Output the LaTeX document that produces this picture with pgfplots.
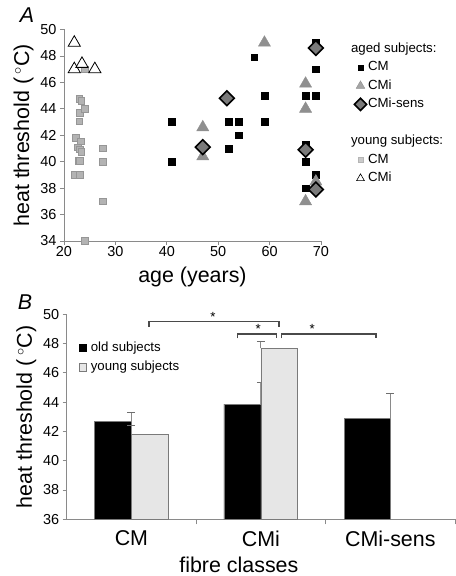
\documentclass[border=0pt]{standalone}
\usepackage{fontspec}
\setmainfont{Liberation Sans}
\usepackage{pgfplots}
\pgfplotsset{compat=1.18}
\definecolor{triA}{HTML}{8F8F8F}
\definecolor{sqY}{HTML}{B3B3B3}
\definecolor{sqYd}{HTML}{969696}
\definecolor{dia}{HTML}{7A7A7A}
\definecolor{axc}{HTML}{8A8A8A}
\definecolor{barY}{HTML}{E6E6E6}
\definecolor{barYd}{HTML}{7A7A7A}
\definecolor{brk}{HTML}{4A4A4A}
\newcommand{\bigfont}{\fontsize{21.5}{24}\selectfont}
\newcommand{\tickfont}{\fontsize{14.5}{16}\selectfont}
\newcommand{\legfont}{\fontsize{13.3}{15}\selectfont}
\pgfplotsset{
  common/.style={
    scale only axis,
    axis lines=left,
    axis line style={-, axc, line width=0.8bp},
    tick align=outside,
    major tick length=4bp,
    minor tick length=5bp,
    tick style={axc, line width=0.8bp},
    /pgf/number format/assume math mode=true,
    tick label style={font=\tickfont},
    label style={font=\bigfont},
  },
  mkleg/.style={legend image code/.code={\draw[##1] plot coordinates {(5bp,0bp)};}},
  barleg/.style={legend image code/.code={\draw[##1] (0bp,-3.6bp) rectangle (7.2bp,3.6bp);}},
  ebar/.style={error bars/.cd, y dir=plus, y explicit,
    error bar style={axc, line width=0.9bp},
    error mark options={rotate=90, brk!80, mark size=4bp, line width=0.9bp}},
}
\begin{document}
\begin{tikzpicture}[x=1bp,y=1bp]
% ---------------- Panel A ----------------
\begin{axis}[common,
  at={(64bp,335bp)}, anchor=south west,
  width=257bp, height=211.5bp,
  xmin=20, xmax=70, ymin=34, ymax=50,
  xtick={20,30,...,70}, ytick={34,36,...,50},
  xlabel={age (years)},
  xlabel style={yshift=-3bp},
  xticklabel style={yshift=2bp},
  ylabel={heat threshold (\,$^\circ$C)},
  clip=false,
  legend style={draw=none, fill=none, font=\legfont,
    at={(rel axis cs:1.13,0.945)}, anchor=north west,
    row sep=3bp, inner sep=0pt, outer sep=0pt,
    nodes={inner sep=1.5bp, text height=9.5bp, text depth=3bp}},
  legend cell align=left,
]
% aged CM
\addplot[only marks, mark=square*, mark size=3.4bp, draw=black, fill=black, forget plot] coordinates {
(41,43) (41,40) (52,43) (54,43) (52,41) (54,42) (57,47.9) (59,45) (59,43)
(67,45) (69,45) (69,47) (69,49) (67,41.3) (67,40) (69,39) (67,38)
};
% young CM
\addplot[only marks, mark=square*, mark size=3.3bp, draw=sqYd, fill=sqY, line width=0.6bp, forget plot] coordinates {
(24,47) (23,44.75) (23.4,44.6) (23.1,43.7) (24,44) (23,43.05) (22.3,41.8) (23.3,41.55)
(22.7,41.1) (23.1,40.95) (23.4,40.75) (22.8,40.05) (23.1,40.05) (22,39) (23.1,39)
(27.5,41) (27.5,40) (27.5,37) (24,34)
};
% young CMi
\addplot[only marks, mark=triangle*, mark size=7bp, draw=black, fill=white, line width=0.8bp, forget plot] coordinates {
(22,49) (22,47) (23.5,47.4) (26,47)
};
% aged CMi
\addplot[only marks, mark=triangle*, mark size=7bp, draw=triA, fill=triA, forget plot] coordinates {
(47,42.6) (47,40.4) (59,49) (67,45.9) (67,44) (69,38.5) (67,37)
};
% aged CMi-sens
\addplot[only marks, mark=square*, mark size=5.2bp, mark options={rotate=45}, draw=black, fill=dia, line width=1.6bp, forget plot] coordinates {
(47,41.1) (51.7,44.8) (69,48.6) (67,40.9) (69,37.9)
};
% legend
\addlegendimage{empty legend}
\addlegendentry{\hspace*{-17bp}aged subjects:}
\addlegendimage{mkleg, only marks, mark=square*, mark size=2.6bp, draw=black, fill=black}
\addlegendentry{CM}
\addlegendimage{mkleg, only marks, mark=triangle*, mark size=5bp, draw=triA, fill=triA!80}
\addlegendentry{CMi}
\addlegendimage{mkleg, only marks, mark=square*, mark size=4.3bp, mark options={rotate=45}, draw=black, fill=dia, line width=1.5bp}
\addlegendentry{CMi-sens}
\addlegendimage{empty legend}
\addlegendentry{}
\addlegendimage{empty legend}
\addlegendentry{\hspace*{-17bp}young subjects:}
\addlegendimage{mkleg, only marks, mark=square*, mark size=2.6bp, draw=sqYd!70, fill=sqY!70}
\addlegendentry{CM}
\addlegendimage{mkleg, only marks, mark=triangle*, mark size=4.5bp, draw=black, fill=white, line width=0.6bp}
\addlegendentry{CMi}
\end{axis}
% ---------------- Panel B ----------------
\begin{axis}[common,
  at={(66.7bp,56.7bp)}, anchor=south west,
  width=388.3bp, height=205bp,
  xmin=-0.5, xmax=2.5, ymin=36, ymax=50,
  ytick={36,38,...,50},
  xtick={0,1,2}, xticklabels={CM,CMi,CMi-sens},
  xticklabel style={font=\bigfont, yshift=-4bp},
  major x tick style={draw=none},
  minor xtick={0.5,1.5,2.5},
  xlabel={fibre classes},
  xlabel style={yshift=-4bp, xshift=-22bp},
  ylabel={heat threshold (\,$^\circ$C)},
  clip mode=individual,
  legend style={draw=none, fill=none, font=\legfont,
    at={(rel axis cs:0.03,0.875)}, anchor=north west,
    row sep=4bp, inner sep=0pt,
    nodes={inner sep=1.5bp, text height=9.5bp, text depth=3bp}},
  legend cell align=left,
]
\addplot[ybar, bar width=0.285, bar shift=-0.1425, fill=black, draw=barYd, line width=0.6bp, forget plot, ebar]
  coordinates {(0,42.66) +- (0,0.64) (1,43.87) +- (0,1.49)};
\addplot[ybar, bar width=0.285, bar shift=0.1425, fill=barY, draw=barYd, line width=0.6bp, forget plot, ebar]
  coordinates {(0,41.8) +- (0,0.64) (1,47.68) +- (0,0.45)};
\addplot[ybar, bar width=0.353, bar shift=-0.1765, fill=black, draw=barYd, line width=0.6bp, forget plot, ebar]
  coordinates {(2,42.87) +- (0,1.71)};
\addlegendimage{barleg, fill=black, draw=black}
\addlegendentry{\hspace*{3bp}old subjects}
\addlegendimage{barleg, fill=barY, draw=barYd, line width=0.6bp}
\addlegendentry{\hspace*{3bp}young subjects}
% significance brackets
\draw[brk, line width=1.3bp] (axis cs:0.136,49.15) -- (axis cs:0.136,49.5) -- (axis cs:1.141,49.5) -- (axis cs:1.141,49.15);
\draw[brk, line width=1.3bp] (axis cs:0.817,48.35) -- (axis cs:0.817,48.65) -- (axis cs:1.122,48.65) -- (axis cs:1.122,48.35);
\draw[brk, line width=1.3bp] (axis cs:1.161,48.35) -- (axis cs:1.161,48.65) -- (axis cs:1.890,48.65) -- (axis cs:1.890,48.35);
\node[font=\legfont, anchor=south, inner sep=0.3bp] at (axis cs:0.63,49.5) {*};
\node[font=\legfont, anchor=south, inner sep=0.3bp] at (axis cs:0.98,48.65) {*};
\node[font=\legfont, anchor=south, inner sep=0.3bp] at (axis cs:1.396,48.65) {*};
\end{axis}
\node[font=\bigfont\itshape] at (27bp,561bp) {A};
\node[font=\bigfont\itshape] at (25bp,274bp) {B};
\pgfresetboundingbox
\useasboundingbox (0bp,0bp) rectangle (456bp,576bp);
\end{tikzpicture}
\end{document}
